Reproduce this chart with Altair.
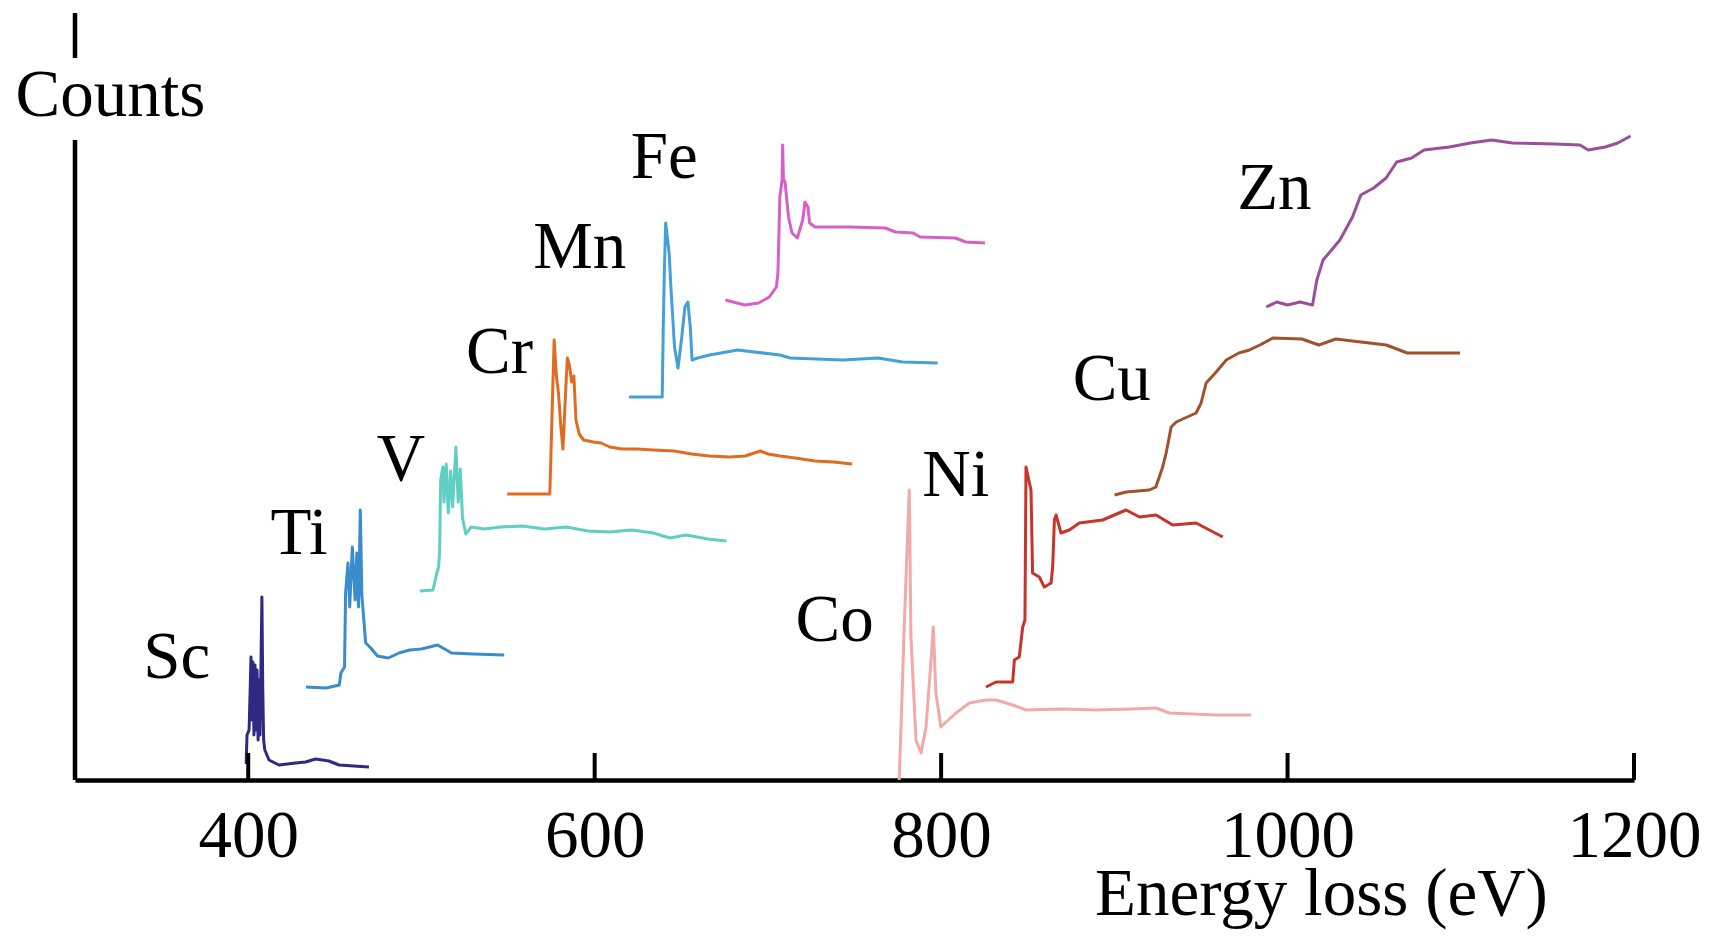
import altair as alt
import pandas as pd

FONT = "Liberation Serif"

elements = ["Sc", "Ti", "V", "Cr", "Mn", "Fe", "Co", "Ni", "Cu", "Zn"]
colors = ["#2e2a82", "#3a8ccc", "#5fcfc2", "#e06c22", "#44a0d6",
          "#d660c8", "#f2aaa6", "#c8342a", "#a0522d", "#9a4f9c"]

sc_energy = [398.8, 399.3, 400.5, 401.2, 401.6, 402.2, 402.7, 403.3, 403.9, 404.5, 405.1, 405.7, 406.3, 406.8,
             407.4, 407.9, 408.4, 408.9, 409.6, 412.0, 417.7, 427.4, 433.1, 438.9, 446.6, 452.4, 461.0, 469.7]
sc_counts = [16, 45, 50, 95, 123, 60, 118, 45, 115, 50, 110, 40, 100, 45,
             120, 183, 90, 40, 30, 20, 15, 17, 18, 21, 19, 15, 14, 13]

ti_energy = [433.3, 445.0, 452.6, 453.5, 455.6, 456.2, 457.6, 458.6, 460.1, 461.7, 462.7, 463.7, 464.7,
             465.6, 467.8, 470.8, 474.6, 480.9, 487.0, 493.1, 500.0, 509.3, 517.4, 530.0, 547.8]
ti_counts = [93, 92, 95, 107, 113, 187, 217, 173, 233, 180, 227, 173, 270,
             185, 137, 132, 124, 122, 127, 130, 131, 135, 127, 126, 125]

v_energy = [499.1, 506.7, 508.6, 509.9, 510.5, 511.1, 512.4, 513.0, 514.3, 515.5, 516.8, 518.0, 519.9, 521.2,
            522.4, 523.7, 525.6, 528.7, 536.3, 545.8, 558.4, 571.0, 583.5, 596.1, 608.7, 621.3, 633.9, 643.4,
            652.8, 665.4, 676.1]
v_counts = [189, 190, 205, 213, 229, 300, 313, 278, 316, 267, 309, 273, 333, 278,
            311, 262, 246, 253, 251, 253, 254, 251, 253, 249, 248, 250, 247, 242,
            245, 241, 239]

cr_energy = [549.5, 558.4, 574.1, 574.7, 575.4, 576.6, 577.9, 579.1, 580.4, 581.7, 582.9, 584.2, 585.4, 586.7,
             588.0, 589.2, 591.1, 593.6, 599.3, 603.7, 608.7, 615.7, 624.5, 633.9, 645.9, 656.0, 666.1, 678.0,
             686.9, 695.7, 700.1, 707.0, 715.8, 727.2, 737.9, 748.6]
cr_counts = [286, 286, 286, 322, 366, 440, 404, 387, 355, 331, 376, 422, 415, 398,
             404, 360, 346, 340, 338, 337, 333, 331, 331, 330, 329, 326, 324, 323,
             324, 329, 326, 324, 322, 319, 318, 316]

mn_energy = [619.8, 639.0, 639.6, 640.2, 641.0, 643.0, 644.0, 646.1, 648.1, 650.1, 652.1, 653.8, 655.2, 656.2,
             659.3, 666.3, 682.6, 706.9, 712.9, 743.3, 763.6, 777.7, 798.0]
mn_counts = [383, 383, 453, 507, 557, 527, 493, 433, 412, 440, 473, 478, 453, 420,
             422, 425, 430, 425, 422, 420, 422, 418, 417]

fe_energy = [675.5, 686.6, 694.7, 700.8, 704.9, 705.8, 706.9, 708.2, 708.5, 709.0, 709.9, 711.9, 713.9, 717.0,
             720.1, 721.4, 723.1, 724.1, 727.2, 747.3, 767.6, 773.7, 783.9, 787.9, 808.2, 814.2, 825.4]
fe_counts = [480, 475, 477, 483, 493, 507, 583, 600, 635, 600, 598, 563, 547, 542,
             560, 578, 573, 557, 553, 553, 552, 548, 547, 543, 542, 538, 537]

co_energy = [775.8, 777.0, 778.7, 781.6, 782.6, 785.5, 788.4, 791.3, 794.2, 795.5, 797.0, 799.9, 802.8, 808.6,
             816.3, 825.9, 831.7, 841.3, 849.0, 870.0, 889.5, 910.0, 924.1, 931.8, 958.8, 979.0]
co_counts = [0, 60, 153, 290, 143, 40, 27, 53, 120, 153, 87, 53, 58, 67,
             77, 80, 80, 75, 70, 71, 70, 71, 72, 67, 65, 65]

ni_energy = [825.9, 831.7, 841.3, 842.3, 845.1, 847.1, 848.4, 849.0, 851.9, 852.8, 856.7, 859.6, 863.5, 864.4,
             865.4, 866.4, 869.2, 874.0, 879.8, 893.2, 906.8, 914.5, 924.1, 933.7, 947.2, 954.9, 962.6]
ni_counts = [93, 98, 98, 120, 123, 153, 160, 313, 290, 207, 203, 193, 197, 213,
             260, 265, 247, 250, 257, 260, 270, 263, 265, 255, 257, 250, 243]

cu_energy = [900.1, 906.8, 920.2, 924.0, 927.9, 929.9, 932.8, 935.7, 947.2, 950.1, 953.0, 958.8, 964.6, 971.9,
             978.0, 984.0, 991.5, 1008.3, 1018.1, 1027.8, 1057.0, 1069.1, 1099.5]
cu_counts = [285, 288, 290, 293, 313, 327, 353, 358, 367, 377, 397, 408, 420, 427,
             430, 435, 442, 441, 435, 441, 435, 427, 427]

zn_energy = [987.7, 993.8, 1000.0, 1007.2, 1014.4, 1016.9, 1020.5, 1025.4, 1030.2, 1037.5, 1042.3, 1049.7,
             1056.9, 1063.0, 1071.6, 1078.8, 1093.4, 1105.6, 1117.8, 1129.9, 1154.2, 1168.8, 1173.6,
             1183.4, 1190.7, 1198.0]
zn_counts = [473, 478, 475, 478, 475, 500, 520, 530, 540, 563, 585, 592,
             602, 618, 622, 630, 633, 637, 640, 637, 636, 635, 630,
             633, 637, 644]

label_energy = [358.7, 429.3, 488.2, 545.1, 591.4, 640.1, 738.5, 808.5, 898.5, 992.4]
label_counts = [102, 226, 300, 407, 512, 602, 139, 284, 380, 571]

tick_values = [400, 600, 800, 1000, 1200]

series = {
    "Sc": (sc_energy, sc_counts), "Ti": (ti_energy, ti_counts), "V": (v_energy, v_counts),
    "Cr": (cr_energy, cr_counts), "Mn": (mn_energy, mn_counts), "Fe": (fe_energy, fe_counts),
    "Co": (co_energy, co_counts), "Ni": (ni_energy, ni_counts), "Cu": (cu_energy, cu_counts),
    "Zn": (zn_energy, zn_counts),
}

rows = []
for el in elements:
    es, cs = series[el]
    for i, (e, c) in enumerate(zip(es, cs)):
        rows.append({"element": el, "i": i, "energy": e, "counts": c})
df = pd.DataFrame(rows)

labels_df = pd.DataFrame({"element": elements, "energy": label_energy, "counts": label_counts})
ticks_df = pd.DataFrame({"energy": tick_values, "counts": [0] * 5, "c1": [27] * 5})
yaxis_df = pd.DataFrame({"energy": [300, 300], "counts": [0, 722], "c1": [640, 767]})

xscale = alt.Scale(domain=[300, 1200], nice=False, zero=False)
yscale = alt.Scale(domain=[0, 767], nice=False, zero=False)

xaxis = alt.Axis(
    values=tick_values, ticks=False, tickSize=0, grid=False,
    domain=True, domainColor="black", domainWidth=4.5,
    labelFont=FONT, labelFontSize=67, labelColor="black",
    labelBaseline="alphabetic", labelPadding=76, labelAlign="center",
    labelFlush=False, labelOverlap=False, labelBound=False, format="d",
    title="Energy loss (eV)", titleFont=FONT, titleFontSize=67,
    titleFontWeight="normal", titleColor="black", titleX=1246, titleY=134,
    titleAlign="center", titleBaseline="alphabetic", titleAngle=0)
yaxis_def = alt.Axis(
    domain=False, ticks=False, labels=False, grid=False,
    title="Counts", titleFont=FONT, titleFontSize=67, titleFontWeight="normal",
    titleColor="black", titleAngle=0, titleX=35, titleY=102,
    titleAlign="center", titleBaseline="alphabetic")

X = alt.X("energy:Q", scale=xscale, axis=xaxis, title="Energy loss (eV)")
Y = alt.Y("counts:Q", scale=yscale, axis=yaxis_def, title="Counts")

lines = alt.Chart(df).mark_line(strokeWidth=3, strokeJoin="round").encode(
    x=X, y=Y,
    color=alt.Color("element:N", scale=alt.Scale(domain=elements, range=colors), legend=None),
    detail="element:N",
    order=alt.Order("i:Q"),
)

ticks = alt.Chart(ticks_df).mark_rule(color="black", strokeWidth=4).encode(
    x=X, y=Y, y2="c1:Q",
)

yaxis = alt.Chart(yaxis_df).mark_rule(color="black", strokeWidth=4.5).encode(
    x=X, y=Y, y2="c1:Q",
)

texts = alt.Chart(labels_df).mark_text(
    font=FONT, fontSize=67, color="black", align="center", baseline="alphabetic"
).encode(
    x=X, y=Y,
    text="element:N",
)

chart = alt.layer(lines, ticks, yaxis, texts).properties(
    width=1559, height=767,
    padding={"left": 75, "top": 13, "right": 76, "bottom": 156},
    autosize=alt.AutoSizeParams(type="none"),
    background="white",
).configure_view(strokeWidth=0)

chart.save("out.html", embed_options={"renderer": "svg", "actions": False})
